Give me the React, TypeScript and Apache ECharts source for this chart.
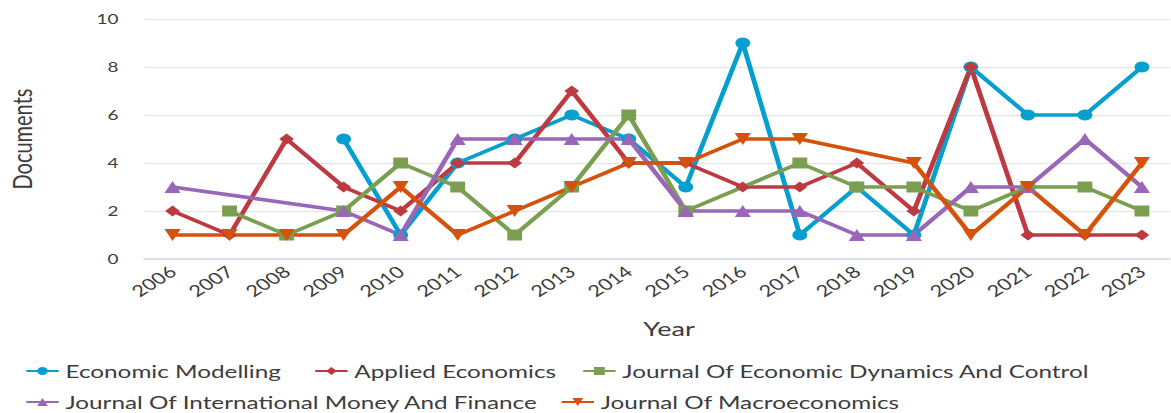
import React, { useEffect, useRef } from "react";
import * as echarts from "echarts";

const years = ["2006","2007","2008","2009","2010","2011","2012","2013","2014","2015","2016","2017","2018","2019","2020","2021","2022","2023"];
const economicModelling = [null,null,null,5,1,4,5,6,5,3,9,1,3,1,8,6,6,8];
const appliedEconomics = [2,1,5,3,2,4,4,7,4,4,3,3,4,2,8,1,1,1];
const econDynamicsControl = [null,2,1,2,4,3,1,3,6,2,null,4,3,3,2,3,3,2];
const intlMoneyFinance = [3,null,null,2,1,5,5,5,5,2,2,2,1,1,3,3,5,3];
const macroeconomics = [1,1,1,1,3,1,2,3,4,4,5,5,null,4,1,3,1,4];
const yTicks = { min: 0, max: 10, interval: 2 };

const seriesNames = [
  "Economic Modelling",
  "Applied Economics",
  "Journal Of Economic Dynamics And Control",
  "Journal Of International Money And Finance",
  "Journal Of Macroeconomics",
];
const seriesData = [economicModelling, appliedEconomics, econDynamicsControl, intlMoneyFinance, macroeconomics];
const colors = ["#03A0CF", "#BE3A41", "#7A9F50", "#9966B8", "#D5520B"];
const symbols = ["circle", "diamond", "rect", "triangle", "triangle"];
const symbolRotates = [0, 0, 0, 0, 180];
const symbolSizes = [11, 11, 11, 12, 12];

const SX = 1.35;
const FONT = "Lato";
const TXT = "#3c3c3c";

// legend positions (chart coords, before horizontal stretch)
const legendPos = [
  { left: 18.5, top: 362 },
  { left: 232.5, top: 362 },
  { left: 431, top: 362 },
  { left: 18.5, top: 393 },
  { left: 415, top: 393 },
];

export default function App() {
  const ref = useRef<HTMLDivElement>(null);
  useEffect(() => {
    if (!ref.current) return;
    const chart = echarts.init(ref.current, null, { renderer: "svg" });
    chart.setOption({
      animation: false,
      color: colors,
      textStyle: { fontFamily: FONT },
      grid: { left: 106.7, top: 19, width: 774.7, height: 240, containLabel: false },
      xAxis: {
        type: "category",
        data: years,
        boundaryGap: true,
        axisTick: { show: false },
        axisLine: { lineStyle: { color: "#d3d7e5", width: 1.5 } },
        axisLabel: { rotate: 40, margin: 10, fontSize: 16, color: TXT, fontFamily: FONT },
        splitLine: { show: false },
      },
      yAxis: {
        type: "value",
        min: yTicks.min,
        max: yTicks.max,
        interval: yTicks.interval,
        axisLine: { show: false },
        axisTick: { show: false },
        axisLabel: { fontSize: 14, color: TXT, margin: 19, fontFamily: FONT },
        splitLine: { lineStyle: { color: "#e2e2e8", width: 1.2 } },
      },
      legend: legendPos.map((p, i) => ({
        data: [seriesNames[i]],
        left: p.left,
        top: p.top,
        padding: 0,
        itemWidth: 24,
        itemHeight: 10,
        itemGap: 0,
        textStyle: { fontSize: 18, color: TXT, fontFamily: FONT, lineHeight: 18 },
        selectedMode: false,
      })),
      graphic: [
        {
          type: "text",
          x: 16.3,
          y: 139,
          rotation: Math.PI / 2,
          style: { text: "Documents", fontSize: 20, fill: TXT, fontFamily: FONT, align: "center", verticalAlign: "middle" },
        },
        {
          type: "text",
          x: 495.6,
          y: 328,
          style: { text: "Year", fontSize: 20, fill: TXT, fontFamily: FONT, align: "center", verticalAlign: "middle" },
        },
      ],
      series: seriesNames.map((name, i) => ({
        name,
        type: "line",
        data: seriesData[i],
        connectNulls: true,
        symbol: symbols[i],
        symbolRotate: symbolRotates[i],
        symbolSize: symbolSizes[i],
        showSymbol: true,
        lineStyle: { width: 3.6, color: colors[i] },
        itemStyle: { color: colors[i] },
        emphasis: { disabled: true },
      })),
    });
    return () => chart.dispose();
  }, []);
  return (
    <div
      ref={ref}
      style={{
        position: "absolute",
        left: 0,
        top: 0,
        width: 867,
        height: 413,
        transform: `scaleX(${SX})`,
        transformOrigin: "0 0",
        background: "#fff",
      }}
    />
  );
}
